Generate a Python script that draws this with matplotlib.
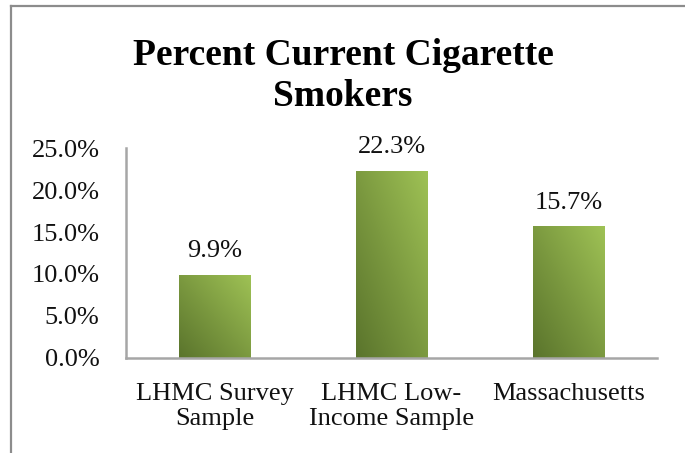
import matplotlib
matplotlib.use("Agg")
import matplotlib.pyplot as plt
import numpy as np
from matplotlib.colors import LinearSegmentedColormap
from matplotlib.lines import Line2D

categories = ["LHMC Survey\nSample", "LHMC Low-\nIncome Sample", "Massachusetts"]
values = [0.099, 0.223, 0.157]
value_labels = ["9.9%", "22.3%", "15.7%"]
yticks = [0.0, 0.05, 0.10, 0.15, 0.20, 0.25]
ytick_labels = ["0.0%", "5.0%", "10.0%", "15.0%", "20.0%", "25.0%"]
title = "Percent Current Cigarette\nSmokers"

plt.rcParams['font.family'] = ['Liberation Serif', 'DejaVu Serif']

W, H = 685, 453
fig = plt.figure(figsize=(W / 100, H / 100), dpi=100)
fig.patch.set_facecolor("white")

# outer chart border (left and top visible)
border_c = "#8c8c8c"
fig.add_artist(Line2D([10.5 / W, 10.5 / W], [0, 1 - 5.5 / H], color=border_c, lw=1.6, transform=fig.transFigure))
fig.add_artist(Line2D([10.5 / W, 1], [1 - 5.5 / H, 1 - 5.5 / H], color=border_c, lw=1.6, transform=fig.transFigure))

ax = fig.add_axes([126 / W, 1 - 358 / H, (657 - 126) / W, (358 - 148) / H])
x = np.arange(len(categories))
bars = ax.bar(x, values, width=0.405, color="none", edgecolor="none", zorder=2)

cmap = LinearSegmentedColormap.from_list("g", ["#5a742c", "#7c9a40", "#9fc255"])
n = 128
uu, vv = np.meshgrid(np.linspace(0, 1, n), np.linspace(0, 1, n))
grad = (uu + vv) / 2.0
for b in bars:
    x0, y0 = b.get_x(), b.get_y()
    w, h = b.get_width(), b.get_height()
    im = ax.imshow(grad, cmap=cmap, origin="lower", aspect="auto",
                   extent=[x0, x0 + w, y0, y0 + h], zorder=2, interpolation="bilinear")
    im.set_clip_path(b)

for xi, v, lab in zip(x, values, value_labels):
    ax.annotate(lab, (xi, v), xytext=(0, 9), textcoords="offset points",
                ha="center", va="bottom", fontsize=19, color="#111111")

ax.set_xlim(-0.5, 2.5)
ax.set_ylim(0, 0.25)
ax.set_yticks(yticks)
ax.set_yticklabels(ytick_labels, fontsize=19, color="#111111")
ax.set_xticks(x)
ax.set_xticklabels(categories, fontsize=19, color="#111111", linespacing=1.15)
ax.tick_params(axis="y", length=0, pad=19)
ax.tick_params(axis="x", length=0, pad=18)

for s in ["top", "right"]:
    ax.spines[s].set_visible(False)
for s in ["left", "bottom"]:
    ax.spines[s].set_color("#a6a6a6")
    ax.spines[s].set_linewidth(1.8)

fig.text(343 / W, 1 - 76 / H, title, ha="center", va="center", fontsize=27,
         fontweight="bold", color="#000000", linespacing=1.2)

fig.savefig("out.png", dpi=100, facecolor="white")
